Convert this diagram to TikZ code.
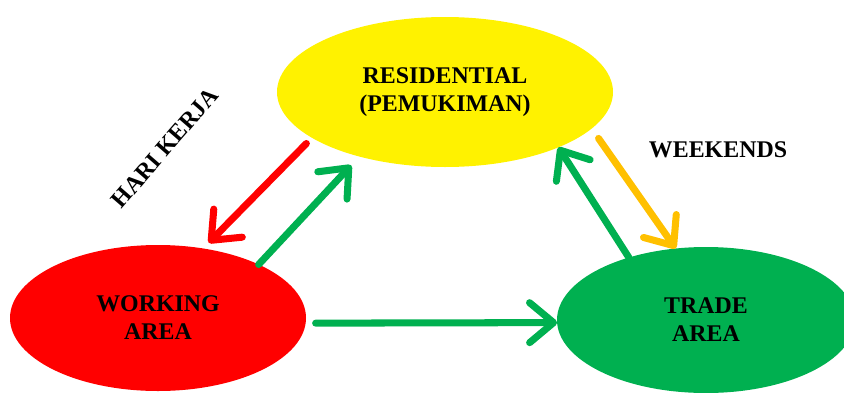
\documentclass[tikz,border=0pt]{standalone}
\usepackage{fontspec}
\setmainfont{Liberation Serif}
\usetikzlibrary{shapes.geometric, arrows.meta}

\definecolor{zonegreen}{HTML}{00B050}
\definecolor{zoneorange}{HTML}{FFC000}

\begin{document}
\begin{tikzpicture}[
    blob/.style={ellipse, draw=none, outer sep=0pt, align=center,
                 font=\fontsize{17}{20}\selectfont\bfseries},
    flow/.style={line width=5pt, line cap=round,
                 -{Straight Barb[length=0.6cm, width=1.0cm, round]}}]
    \useasboundingbox (0,0) rectangle (21.1,9.8);
    \clip (0,0) rectangle (21.1,9.8);

    % three zones: residential on top, working left, trade right
    \node[blob, fill=yellow, minimum width=8.4cm, minimum height=3.75cm] (res) at (11.125,7.5)
        {RESIDENTIAL\\(PEMUKIMAN)};
    \node[blob, fill=red, minimum width=7.4cm, minimum height=3.65cm] (work) at (3.95,1.85)
        {WORKING\\AREA};
    \node[blob, fill=zonegreen, minimum width=7.45cm, minimum height=3.65cm] (trade) at (17.65,1.8)
        {TRADE\\AREA};

    % labels of the two commuting flows
    \node[rotate=49, font=\fontsize{17}{20}\selectfont\bfseries] (workdays) at (4.125,6.1) {HARI KERJA};
    \node[font=\fontsize{17}{20}\selectfont\bfseries] (weekends) at (17.95,6.05) {WEEKENDS};

    % flows between the zones
    \draw[flow, red, shorten <=0.2cm, shorten >=0.2cm] (res.199) -- (work.57);
    \draw[flow, zonegreen, shorten >=0.3cm] (work.28) -- (res.217);
    \draw[flow, zoneorange, shorten <=0.3cm] (res.-14) -- (trade.113);
    \draw[flow, zonegreen] (trade.141) -- (res.-26);
    \draw[flow, zonegreen, shorten <=0.25cm] (work.-2) -- (trade.181.5);
\end{tikzpicture}
\end{document}
